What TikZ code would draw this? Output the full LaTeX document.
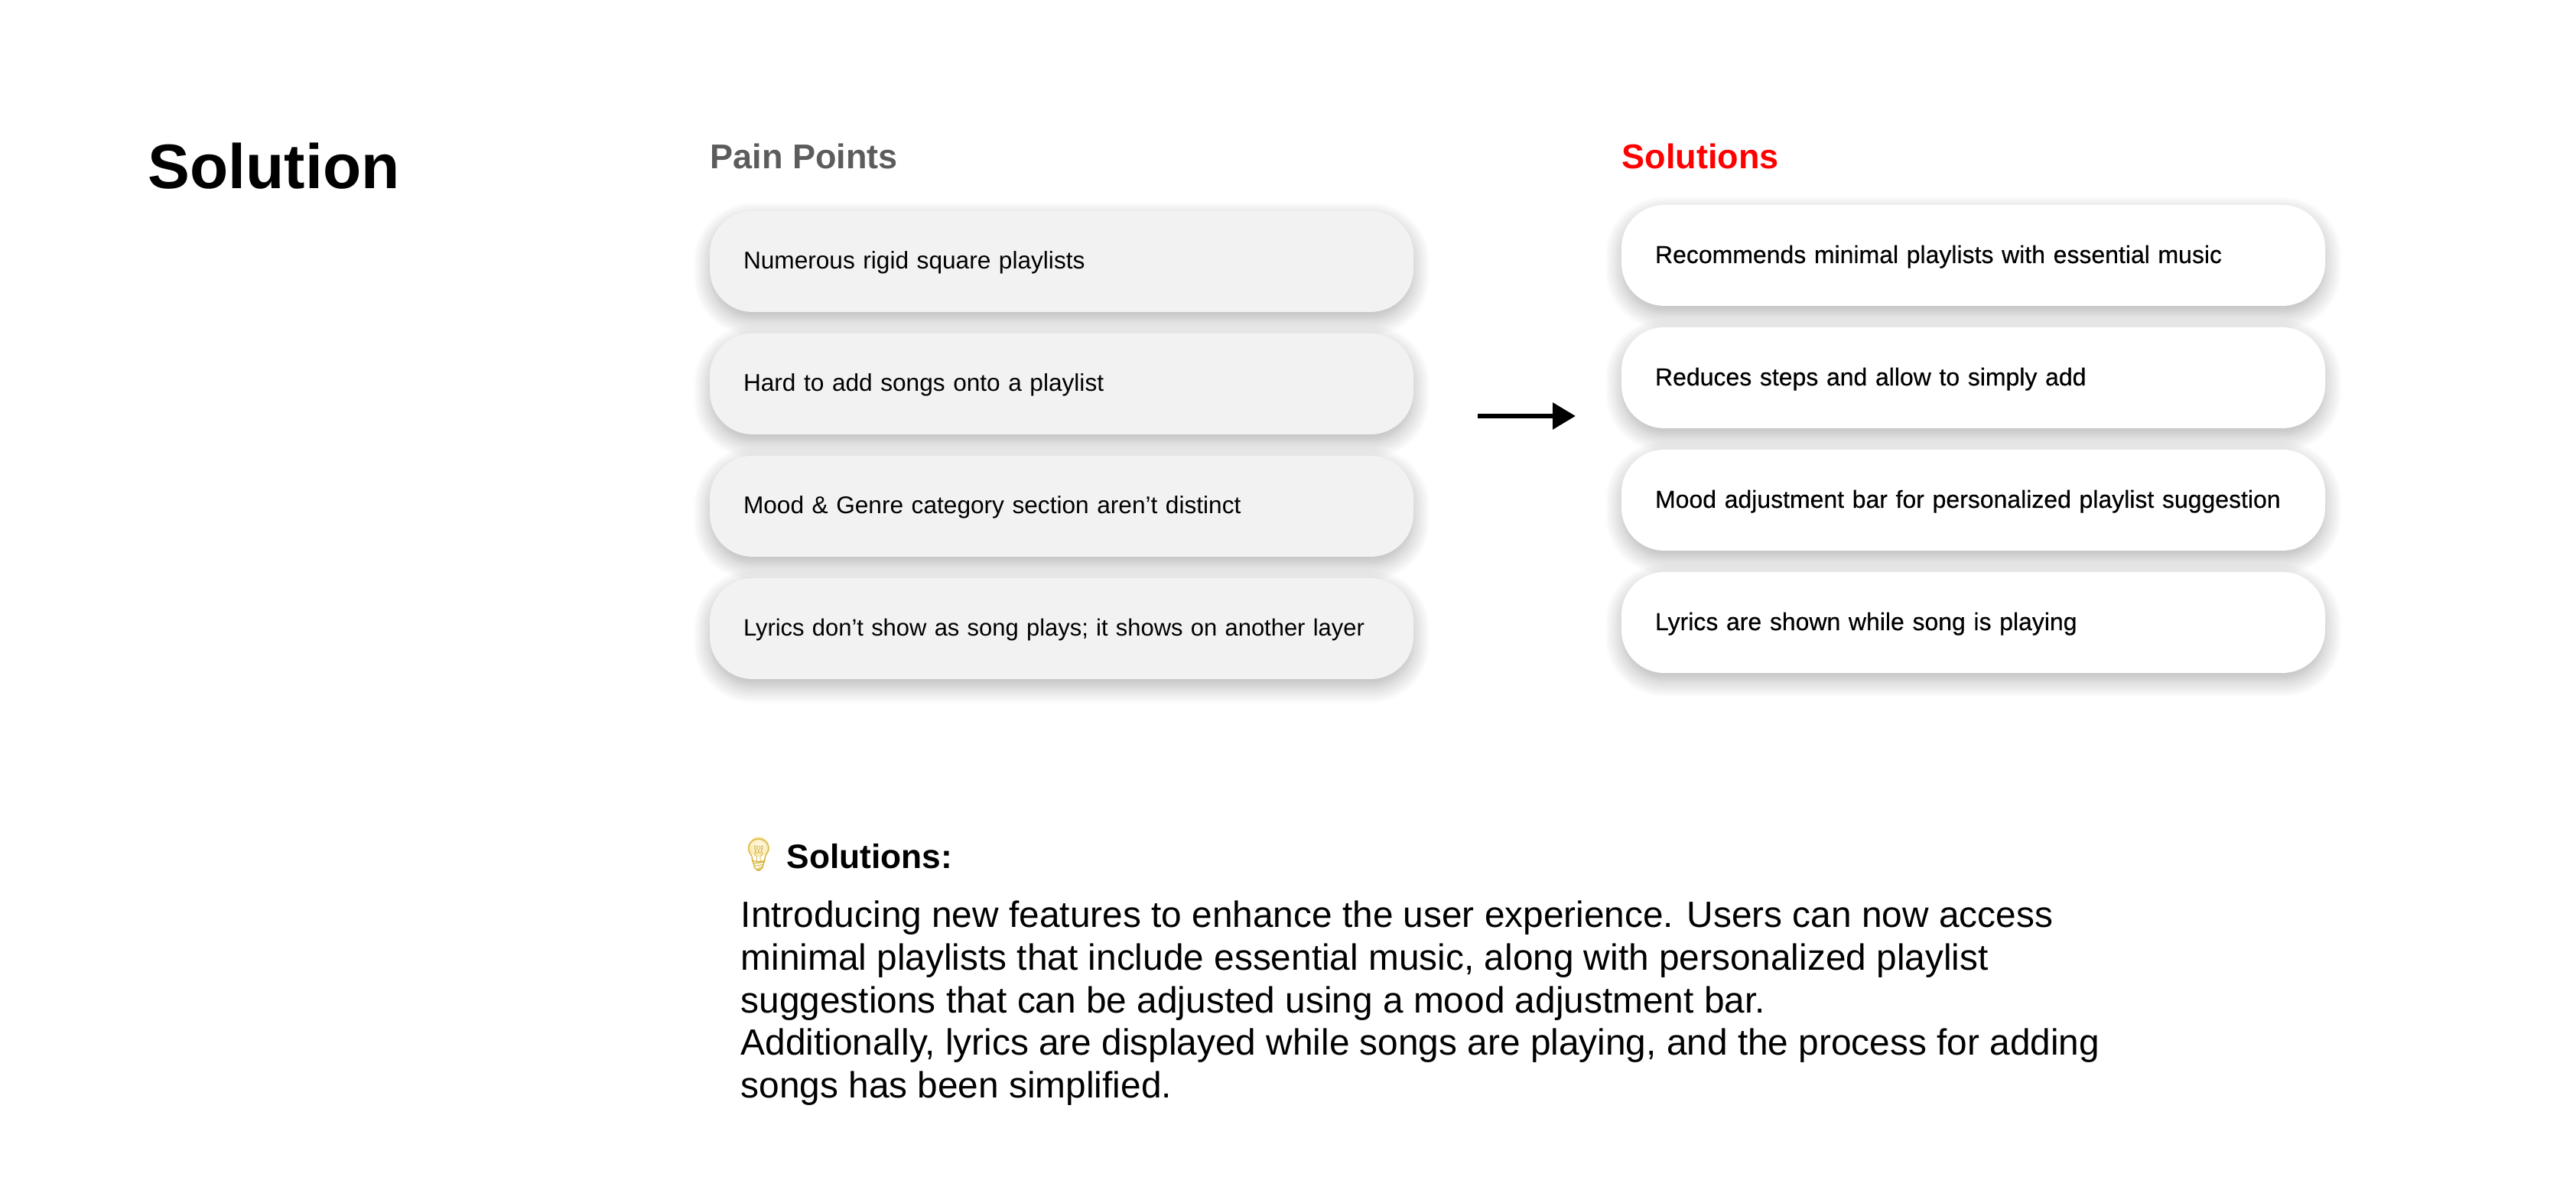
\documentclass[tikz,border=0pt]{standalone}
\usepackage{fontspec}
\setmainfont{Liberation Sans}
\newfontfamily\medfont[FakeBold=0.4]{Liberation Sans}
\newfontfamily\emojifont{Noto Emoji}
\usetikzlibrary{arrows.meta,shadows.blur}
\definecolor{painfill}{HTML}{F2F2F2}
\definecolor{paingray}{HTML}{5C5C5C}
\definecolor{bulbgold}{HTML}{D8B84A}
\definecolor{bulbglow}{HTML}{FBE9A6}
\begin{document}
\begin{tikzpicture}[
  pill/.style={rounded corners=0.56cm, minimum width=9.2cm, minimum height=1.32cm, inner xsep=0.44cm,
    inner ysep=0pt, text width=8.32cm, align=left, text height=0.3cm, text depth=0.1cm,
    blur shadow={shadow xshift=0cm, shadow yshift=-0.1cm, shadow blur radius=0.22cm, shadow blur steps=14, shadow opacity=30}},
  pain/.style={pill, fill=painfill, font=\fontsize{9pt}{11pt}\selectfont},
  fix/.style={pill, fill=white, font=\fontsize{9.1pt}{11pt}\selectfont\medfont},
  head/.style={anchor=base west, inner sep=0pt, font=\fontsize{12.8pt}{15pt}\selectfont\bfseries}]
  \useasboundingbox (0,0) rectangle (33.68,15.56);
  \node[anchor=base west, inner sep=0pt, font=\fontsize{23.4pt}{28pt}\selectfont\bfseries] (title) at (1.93,13.09) {Solution};
  \node[head, paingray] (painhead) at (9.28,13.35) {Pain Points};
  \node[head, red] (fixhead) at (21.2,13.35) {Solutions};
  % left column
  \node[pain] (pain1) at (13.88,12.14) {Numerous rigid square playlists};
  \node[pain] (pain2) at (13.88,10.54) {Hard to add songs onto a playlist};
  \node[pain] (pain3) at (13.88,8.94) {Mood \& Genre category section aren’t distinct};
  \node[pain, font=\fontsize{8.8pt}{11pt}\selectfont] (pain4) at (13.88,7.34) {Lyrics don’t show as song plays; it shows on another layer};
  % right column
  \node[fix] (fix1) at (25.8,12.22) {Recommends minimal playlists with essential music};
  \node[fix] (fix2) at (25.8,10.62) {Reduces steps and allow to simply add};
  \node[fix] (fix3) at (25.8,9.02) {Mood adjustment bar for personalized playlist suggestion};
  \node[fix] (fix4) at (25.8,7.42) {Lyrics are shown while song is playing};
  % arrow
  \coordinate (arrowfrom) at (19.32,10.12);
  \coordinate (arrowto) at (20.6,10.12);
  \draw[line width=0.06cm, -{Triangle[length=0.3cm, width=0.34cm]}] (arrowfrom) -- (arrowto);
  % note
  \shade[inner color=white, outer color=bulbglow] (9.92,4.49) circle (0.13);
  \node[anchor=base, inner sep=0pt, font=\fontsize{12pt}{15pt}\selectfont\emojifont, bulbgold] (bulb) at (9.92,4.23) {💡};
  \node[anchor=base west, inner sep=0pt, font=\fontsize{12.6pt}{16pt}\selectfont\bfseries] (notehead) at (10.28,4.2) {Solutions:};
  \node[anchor=north west, inner sep=0pt, align=left, font=\fontsize{13.6pt}{15.9pt}\selectfont] (note) at (9.68,3.79)
    {Introducing new features to enhance the user experience. Users can now access\\
     minimal playlists that include essential music, along with personalized playlist\\
     suggestions that can be adjusted using a mood adjustment bar.\\
     Additionally, lyrics are displayed while songs are playing, and the process for adding\\
     songs has been simplified.};
\end{tikzpicture}
\end{document}
